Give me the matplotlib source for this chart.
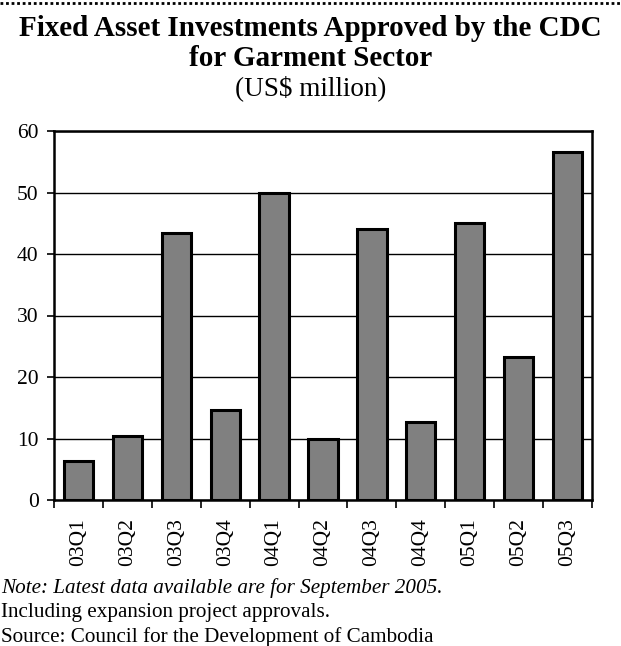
import matplotlib.pyplot as plt
import numpy as np

plt.rcParams['font.family'] = ['Liberation Serif', 'DejaVu Serif']

# data
quarters = ['03Q1', '03Q2', '03Q3', '03Q4', '04Q1', '04Q2', '04Q3', '04Q4', '05Q1', '05Q2', '05Q3']
investments = [6.3, 10.4, 43.4, 14.6, 50.0, 10.0, 44.0, 12.7, 45.0, 23.3, 56.6]

fig = plt.figure(figsize=(6.21, 6.46), dpi=100)
ax = fig.add_axes([54/621, 1 - 500/646, 538/621, 369/646])

x = np.arange(len(quarters))
ax.bar(x, investments, width=0.6, color='#808080', edgecolor='black', linewidth=2.2, zorder=3)

ax.set_xlim(-0.5, len(quarters) - 0.5)
ax.set_ylim(0, 60)
ax.set_yticks(range(0, 61, 10))
ax.yaxis.grid(True, color='black', linewidth=1, zorder=0)
ax.set_xticks(x)
ax.set_xticklabels(quarters, rotation=90, fontsize=15.5)
ax.tick_params(axis='x', length=0, pad=13)
ax.set_xticks(np.arange(-0.5, len(quarters)), minor=True)
ax.tick_params(axis='x', which='minor', length=6, width=1.2, direction='out')
ax.tick_params(axis='y', labelsize=15.5, length=5, width=1.2, direction='out', pad=6)
for s in ax.spines.values():
    s.set_linewidth(1.8)

# dotted rule at top
fig.add_artist(plt.Line2D([0, 1], [1 - 3/646, 1 - 3/646], color='black', linewidth=2, linestyle=(0, (1, 1))))

fig.text(0.5, 1 - 29/646, 'Fixed Asset Investments Approved by the CDC', ha='center', va='center',
         fontsize=21, fontweight='bold')
fig.text(0.5, 1 - 58/646, 'for Garment Sector', ha='center', va='center', fontsize=21, fontweight='bold')
fig.text(0.5, 1 - 88/646, '(US$ million)', ha='center', va='center', fontsize=19.5)

fig.text(1/621, 1 - 588/646, 'Note: Latest data available are for September 2005.', ha='left', va='center',
         fontsize=15.2, style='italic')
fig.text(1/621, 1 - 613/646, 'Including expansion project approvals.', ha='left', va='center', fontsize=15.2)
fig.text(1/621, 1 - 637/646, 'Source: Council for the Development of Cambodia', ha='left', va='center', fontsize=15.2)

fig.savefig('out.png', dpi=100)
